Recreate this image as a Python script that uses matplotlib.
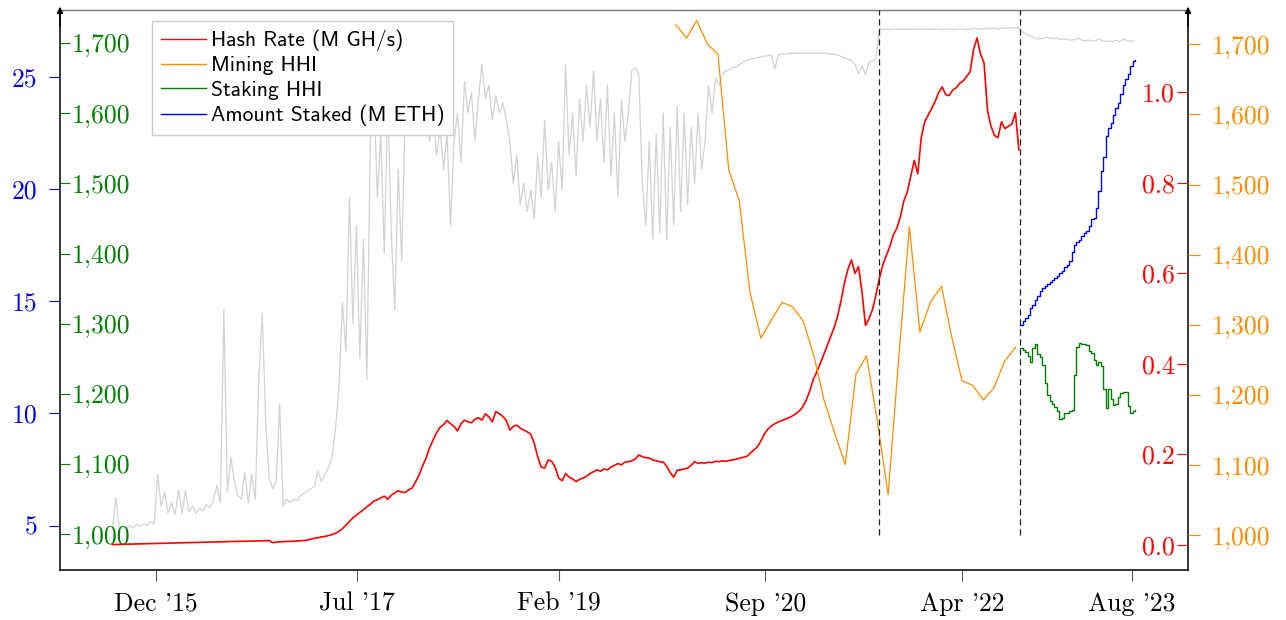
import numpy as np
import matplotlib
matplotlib.use("Agg")
import matplotlib.pyplot as plt

# ---------------- data ----------------
series_start = "2015-07-30"          # genesis; gray & red sampled every 10 days
gray_vals = [
    1006, 1052, 1008, 1010, 1008, 1012, 1009, 1014, 1011, 1015,
    1013, 1018, 1015, 1085, 1040, 1060, 1030, 1045, 1028, 1063,
    1030, 1062, 1032, 1040, 1030, 1037, 1033, 1042, 1038, 1048,
    1070, 1045, 1320, 1060, 1110, 1075, 1055, 1050, 1088, 1045,
    1085, 1050, 1220, 1315, 1160, 1080, 1065, 1075, 1185, 1040,
    1050, 1045, 1050, 1048, 1055, 1058, 1062, 1065, 1068, 1090,
    1075, 1085, 1095, 1110, 1150, 1210, 1330, 1260, 1480, 1300,
    1440, 1250, 1420, 1220, 1560, 1640, 1480, 1570, 1400, 1620,
    1430, 1320, 1520, 1390, 1600, 1660, 1680, 1640, 1680, 1600,
    1610, 1560, 1600, 1540, 1580, 1520, 1570, 1440, 1560, 1600,
    1530, 1645, 1600, 1630, 1560, 1620, 1670, 1620, 1640, 1590,
    1625, 1600, 1615, 1590, 1560, 1500, 1540, 1470, 1500, 1460,
    1490, 1450, 1540, 1480, 1590, 1490, 1530, 1460, 1560, 1490,
    1670, 1540, 1600, 1510, 1620, 1560, 1640, 1580, 1660, 1560,
    1620, 1530, 1640, 1510, 1600, 1480, 1620, 1560, 1600, 1660,
    1665, 1655, 1500, 1440, 1560, 1420, 1570, 1430, 1600, 1420,
    1580, 1440, 1610, 1460, 1600, 1470, 1580, 1500, 1600, 1520,
    1560, 1640, 1600, 1650, 1640, 1655, 1660, 1662, 1665, 1666,
    1670, 1673, 1675, 1677, 1678, 1679, 1680, 1681, 1682, 1683,
    1663, 1683, 1684, 1684, 1685, 1685, 1686, 1685, 1686, 1685,
    1686, 1685, 1686, 1685, 1686, 1685, 1684, 1684, 1683, 1681,
    1679, 1677, 1675, 1670, 1656, 1668, 1655, 1672, 1674, 1677,
    1720, 1719, 1720, 1719, 1720, 1720, 1719, 1720, 1719, 1720,
    1719, 1720, 1720, 1719, 1720, 1719, 1720, 1720, 1719, 1720,
    1720, 1719, 1720, 1720, 1720, 1719, 1720, 1721, 1720, 1720,
    1721, 1720, 1721, 1721, 1720, 1721, 1721, 1722, 1721, 1722,
    1721, 1716, 1713, 1711, 1708, 1706, 1706, 1707, 1708, 1707,
    1706, 1707, 1705, 1706, 1705, 1704, 1705, 1707, 1704, 1703,
    1704, 1703, 1703, 1706, 1703, 1702, 1703, 1702, 1704, 1702,
    1706, 1703, 1703, 1703,
]

hash_rate = [
    0.001, 0.0012, 0.0014, 0.0016, 0.0018, 0.002, 0.0022, 0.0024, 0.0026, 0.0028,
    0.003, 0.0032, 0.0034, 0.0036, 0.0038, 0.004, 0.0042, 0.0044, 0.0046, 0.0048,
    0.005, 0.0052, 0.0054, 0.0056, 0.0058, 0.006, 0.0062, 0.0064, 0.0066, 0.0068,
    0.007, 0.0072, 0.0074, 0.0076, 0.0078, 0.008, 0.0082, 0.0084, 0.0086, 0.0088,
    0.009, 0.0092, 0.0094, 0.0095, 0.0096, 0.0097, 0.005, 0.0065, 0.007, 0.0075,
    0.0078, 0.008, 0.0085, 0.009, 0.0095, 0.010, 0.011, 0.013, 0.015, 0.016,
    0.018, 0.019, 0.021, 0.023, 0.026, 0.030, 0.036, 0.044, 0.052, 0.060,
    0.066, 0.072, 0.078, 0.084, 0.090, 0.097, 0.100, 0.104, 0.108, 0.101,
    0.110, 0.115, 0.120, 0.117, 0.116, 0.122, 0.126, 0.140, 0.155, 0.175,
    0.192, 0.215, 0.232, 0.248, 0.260, 0.266, 0.275, 0.268, 0.262, 0.252,
    0.268, 0.276, 0.272, 0.270, 0.278, 0.281, 0.276, 0.290, 0.283, 0.272,
    0.295, 0.290, 0.284, 0.275, 0.254, 0.262, 0.265, 0.258, 0.254, 0.250,
    0.245, 0.225, 0.195, 0.172, 0.170, 0.188, 0.185, 0.172, 0.148, 0.142,
    0.158, 0.150, 0.146, 0.140, 0.145, 0.148, 0.152, 0.158, 0.162, 0.166,
    0.163, 0.168, 0.166, 0.172, 0.176, 0.180, 0.177, 0.183, 0.184, 0.186,
    0.190, 0.199, 0.195, 0.193, 0.192, 0.188, 0.186, 0.184, 0.183, 0.174,
    0.160, 0.150, 0.165, 0.166, 0.168, 0.170, 0.176, 0.184, 0.180, 0.182,
    0.181, 0.183, 0.182, 0.185, 0.184, 0.186, 0.185, 0.187, 0.188, 0.190,
    0.192, 0.194, 0.196, 0.203, 0.210, 0.217, 0.230, 0.245, 0.256, 0.263,
    0.268, 0.272, 0.275, 0.278, 0.281, 0.285, 0.290, 0.296, 0.305, 0.320,
    0.340, 0.365, 0.382, 0.400, 0.420, 0.440, 0.460, 0.480, 0.505, 0.540,
    0.580, 0.610, 0.630, 0.600, 0.615, 0.560, 0.485, 0.500, 0.520, 0.552,
    0.590, 0.620, 0.640, 0.660, 0.685, 0.700, 0.725, 0.760, 0.780, 0.815,
    0.850, 0.820, 0.900, 0.935, 0.950, 0.965, 0.980, 1.000, 1.012, 0.995,
    0.993, 1.005, 1.010, 1.020, 1.025, 1.035, 1.045, 1.095, 1.120, 1.085,
    1.065, 0.960, 0.925, 0.905, 0.900, 0.935, 0.920, 0.925, 0.930, 0.955,
    0.873,
]

mining_start = "2020-01"             # monthly
mining_hhi = [
    1728, 1709, 1734, 1700, 1686, 1521, 1477, 1346, 1281, 1307, 1332, 1326,
    1305, 1254, 1193, 1145, 1101, 1230, 1256, 1163, 1058, 1250, 1440, 1290,
    1333, 1355, 1286, 1220, 1214, 1193, 1210, 1248, 1268,
]

staking_start = "2022-09-15"         # weekly
staking_hhi = [
    1265, 1262, 1259, 1254, 1246, 1265, 1271, 1257, 1253, 1241,
    1215, 1198, 1190, 1186, 1181, 1176, 1164, 1165, 1173, 1173,
    1175, 1177, 1227, 1267, 1272, 1271, 1271, 1270, 1261, 1258,
    1248, 1241, 1246, 1239, 1207, 1180, 1207, 1192, 1184, 1186,
    1196, 1201, 1203, 1203, 1182, 1173, 1175, 1177,
]
amount_staked = [
    13.96, 14.11, 14.26, 14.41, 14.71, 14.85, 15.04, 15.22, 15.45, 15.60,
    15.70, 15.79, 15.87, 15.94, 16.03, 16.12, 16.27, 16.37, 16.54, 16.64,
    16.79, 17.19, 17.49, 17.63, 17.75, 17.90, 18.05, 18.13, 18.35, 18.69,
    18.72, 19.17, 19.91, 20.80, 21.45, 22.37, 22.71, 22.96, 23.29, 23.63,
    23.86, 24.23, 24.63, 24.90, 25.12, 25.49, 25.71, 25.75,
]

event_dates = ["2021-08-05", "2022-09-15"]   # London fork, The Merge
xtick_dates = ["2015-12-01", "2017-07-01", "2019-02-01", "2020-09-14", "2022-04-01", "2023-08-01"]
xtick_labels = ["Dec '15", "Jul '17", "Feb '19", "Sep '20", "Apr '22", "Aug '23"]
blue_ticks = [5, 10, 15, 20, 25]
green_ticks = [1000, 1100, 1200, 1300, 1400, 1500, 1600, 1700]
red_ticks = [0.0, 0.2, 0.4, 0.6, 0.8, 1.0]
orange_ticks = [1000, 1100, 1200, 1300, 1400, 1500, 1600, 1700]
legend_labels = ["Hash Rate (M GH/s)", "Mining HHI", "Staking HHI", "Amount Staked (M ETH)"]

# ---------------- dates ----------------
d0 = np.datetime64(series_start)
gray_dates = d0 + np.arange(len(gray_vals)) * np.timedelta64(10, "D")
red_dates = d0 + np.arange(len(hash_rate)) * np.timedelta64(10, "D")
mining_dates = (np.datetime64(mining_start) + np.arange(len(mining_hhi))).astype("datetime64[D]")
staking_dates = np.datetime64(staking_start) + np.arange(len(staking_hhi)) * np.timedelta64(7, "D")
amount_dates = np.datetime64(staking_start) + np.arange(len(amount_staked)) * np.timedelta64(7, "D")
events = np.array(event_dates, dtype="datetime64[D]")
xticks = np.array(xtick_dates, dtype="datetime64[D]")

# ---------------- figure ----------------
plt.rcParams["font.family"] = "cmr10"
plt.rcParams["axes.formatter.use_mathtext"] = True
W, H, DPI = 1286, 620, 100
fig = plt.figure(figsize=(W / DPI, H / DPI), dpi=DPI)
fig.patch.set_facecolor("white")
L, R, B, T = 60, 1188, 570, 10
ax = fig.add_axes([L / W, 1 - B / H, (R - L) / W, (B - T) / H])

ax_red = ax.twinx()
ax_orange = ax.twinx()
ax_green = ax.twinx()
ax_blue = ax.twinx()

TICK_FS = 18.5
ORANGE = "#ff8c00"
GREEN = "#008000"

# host: gray background series + x axis
ax.plot(gray_dates, gray_vals, color="#d2d2d2", lw=0.9)
ax.set_ylim(949, 1747)
ax.set_yticks([])
ax.set_xlim(np.datetime64("2015-03-02"), np.datetime64("2024-01-09"))
ax.set_xticks(xticks, labels=xtick_labels)
ax.tick_params(axis="x", direction="out", length=8, width=0.8, color="#555555",
               labelsize=TICK_FS, pad=8)
for side in ["left", "right", "bottom"]:
    ax.spines[side].set_color("black")
    ax.spines[side].set_linewidth(1.1)
ax.spines["top"].set_color("#777777")
ax.spines["top"].set_linewidth(1.0)
for xpos in (0, 1):
    ax.annotate("", xy=(xpos, 1.006), xytext=(xpos, 0.97), xycoords="axes fraction",
                arrowprops=dict(arrowstyle="-|>", color="black", lw=1.1, mutation_scale=9,
                                shrinkA=0, shrinkB=0), annotation_clip=False)

for t in (ax_red, ax_orange, ax_green, ax_blue):
    for s in t.spines.values():
        s.set_visible(False)

# red: hash rate (right, ticks inward, labels inside)
l_red, = ax_red.plot(red_dates, hash_rate, color="red", lw=1.2)
ax_red.set_ylim(-0.0552, 1.182)
ax_red.set_yticks(red_ticks, labels=[f"{v:.1f}" for v in red_ticks])
ax_red.tick_params(axis="y", direction="in", length=7.9, width=0.8, color="red",
                   labelcolor="red", labelsize=TICK_FS, pad=-9.4)
plt.setp(ax_red.get_yticklabels(), ha="right")

# orange: mining HHI (right, outward)
l_orange, = ax_orange.plot(mining_dates, mining_hhi, color=ORANGE, lw=0.9)
ax_orange.set_ylim(950.5, 1749)
ax_orange.set_yticks(orange_ticks, labels=[f"{v:,}" for v in orange_ticks])
ax_orange.tick_params(axis="y", direction="out", length=8.6, width=0.8, color=ORANGE,
                      labelcolor=ORANGE, labelsize=TICK_FS, pad=8.6)
ax_orange.vlines(events, 1000, 1749, colors="#222222", linestyles=(0, (5, 3)), lw=0.9)

# green: staking HHI (left, inward, labels inside)
ax_green.yaxis.tick_left()
l_green, = ax_green.plot(staking_dates, staking_hhi, color=GREEN, lw=1.0, drawstyle="steps-post")
ax_green.set_ylim(949, 1747)
ax_green.set_yticks(green_ticks, labels=[f"{v:,}" for v in green_ticks])
ax_green.tick_params(axis="y", direction="in", length=7.2, width=0.8, color=GREEN,
                     labelcolor=GREEN, labelsize=TICK_FS, pad=-8.6)
plt.setp(ax_green.get_yticklabels(), ha="left")

# blue: amount staked (left, outward)
ax_blue.yaxis.tick_left()
l_blue, = ax_blue.plot(amount_dates, amount_staked, color="blue", lw=1.0, drawstyle="steps-post")
ax_blue.set_ylim(3.02, 27.99)
ax_blue.set_yticks(blue_ticks, labels=[str(v) for v in blue_ticks])
ax_blue.tick_params(axis="y", direction="out", length=7.9, width=0.8, color="blue",
                    labelcolor="blue", labelsize=TICK_FS, pad=8.6)

leg = ax_blue.legend([l_red, l_orange, l_green, l_blue], legend_labels,
                     loc="upper left", bbox_to_anchor=(152 / W, 1 - 21 / H),
                     bbox_transform=fig.transFigure, borderaxespad=0,
                     prop={"family": "cmss10", "size": 15.5},
                     frameon=True, fancybox=False, edgecolor="#cccccc", framealpha=1,
                     borderpad=0.4, handlelength=2.1, handletextpad=0.25,
                     labelspacing=0.24)
leg.get_frame().set_linewidth(1.0)
for line in leg.get_lines():
    line.set_linewidth(1.0)

fig.savefig("out.png", dpi=DPI)
